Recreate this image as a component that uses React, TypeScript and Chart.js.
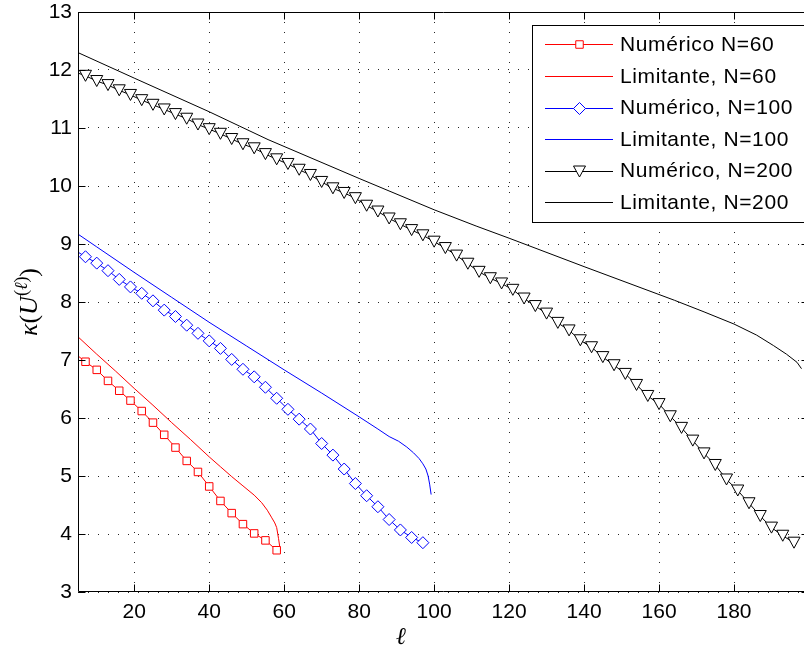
import { useEffect, useRef } from 'react';
import { Chart, registerables } from 'chart.js';

Chart.register(...registerables);

// ---- axes ----
const X_MIN = 5;
const X_MAX = 200;
const Y_MIN = 3;
const Y_MAX = 13;
const xTickValues = [20, 40, 60, 80, 100, 120, 140, 160, 180];
const yTickValues = [3, 4, 5, 6, 7, 8, 9, 10, 11, 12, 13];

const seriesLabels = [
  'Numérico N=60',
  'Limitante, N=60',
  'Numérico, N=100',
  'Limitante, N=100',
  'Numérico, N=200',
  'Limitante, N=200',
];
const seriesColors = ['#ff0000', '#ff0000', '#0000ff', '#0000ff', '#000000', '#000000'];
const seriesMarkers = ['square', 'none', 'diamond', 'none', 'triangle', 'none'];

// ---- N = 60 ----
const redNumX = [4, 7, 10, 13, 16, 19, 22, 25, 28, 31, 34, 37, 40, 43, 46, 49, 52, 55, 58];
const redNumY = [7.12, 6.97, 6.83, 6.64, 6.47, 6.30, 6.12, 5.92, 5.71, 5.49, 5.26, 5.07, 4.82, 4.57, 4.36, 4.17, 4.01, 3.89, 3.72];
const redLimX = [5, 10, 15, 20, 25, 30, 35, 40, 43, 46, 49, 52, 54, 55.5, 56.6, 57.5, 58, 58.5, 59];
const redLimY = [7.40, 7.10, 6.81, 6.51, 6.22, 5.92, 5.63, 5.33, 5.16, 4.99, 4.83, 4.67, 4.54, 4.41, 4.29, 4.19, 4.11, 3.92, 3.70];

// ---- N = 100 ----
const blueNumX = [4, 7, 10, 13, 16, 19, 22, 25, 28, 31, 34, 37, 40, 43, 46, 49, 52, 55, 58, 61, 64, 67, 70, 73, 76, 79, 82, 85, 88, 91, 94, 97];
const blueNumY = [8.90, 8.78, 8.67, 8.54, 8.39, 8.26, 8.15, 8.02, 7.86, 7.75, 7.60, 7.46, 7.33, 7.20, 7.01, 6.84, 6.71, 6.53, 6.34, 6.15, 5.98, 5.81, 5.56, 5.36, 5.12, 4.87, 4.66, 4.47, 4.25, 4.07, 3.94, 3.85];
const blueLimX = [5, 10, 20, 30, 40, 50, 60, 70, 80, 85, 88, 90.5, 92.7, 94.5, 96, 97, 97.8, 98.4, 98.8, 99.2];
const blueLimY = [9.17, 8.95, 8.51, 8.08, 7.65, 7.24, 6.83, 6.43, 6.02, 5.81, 5.68, 5.60, 5.50, 5.40, 5.30, 5.21, 5.12, 5.00, 4.86, 4.68];

// ---- N = 200 ----
const blackNumX = [4, 7, 10, 13, 16, 19, 22, 25, 28, 31, 34, 37, 40, 43, 46, 49, 52, 55, 58, 61, 64, 67, 70, 73, 76, 79, 82, 85, 88, 91, 94, 97, 100, 103, 106, 109, 112, 115, 118, 121, 124, 127, 130, 133, 136, 139, 142, 145, 148, 151, 154, 157, 160, 163, 166, 169, 172, 175, 178, 181, 184, 187, 190, 193, 196];
const blackNumY = [11.97, 11.90, 11.81, 11.74, 11.65, 11.57, 11.48, 11.40, 11.32, 11.24, 11.16, 11.06, 10.98, 10.90, 10.81, 10.72, 10.65, 10.55, 10.46, 10.38, 10.28, 10.19, 10.07, 9.96, 9.88, 9.79, 9.66, 9.56, 9.44, 9.34, 9.24, 9.15, 9.04, 8.93, 8.80, 8.66, 8.52, 8.41, 8.32, 8.21, 8.06, 7.93, 7.80, 7.64, 7.51, 7.34, 7.22, 7.05, 6.91, 6.76, 6.57, 6.38, 6.24, 6.03, 5.83, 5.61, 5.39, 5.19, 4.94, 4.75, 4.53, 4.31, 4.11, 3.97, 3.85];
const blackLimX = [5, 20, 40, 55.7, 80, 100, 111.2, 120, 140, 164.1, 172, 180, 186, 190.5, 194, 196.8, 198];
const blackLimY = [12.30, 11.86, 11.28, 10.80, 10.13, 9.59, 9.31, 9.10, 8.61, 8.03, 7.83, 7.62, 7.43, 7.25, 7.10, 6.96, 6.85];

const TICK_FONT = '"Liberation Sans", Arial, Helvetica, sans-serif';
const SERIF = '"Liberation Serif", "DejaVu Serif", "Times New Roman", serif';

function toPoints(xs: number[], ys: number[]) {
  return xs.map((x, i) => ({ x, y: ys[i] }));
}

function triPath(ctx: CanvasRenderingContext2D, x: number, y: number) {
  ctx.beginPath();
  ctx.moveTo(x - 6, y - 5.5);
  ctx.lineTo(x + 6, y - 5.5);
  ctx.lineTo(x, y + 5.5);
  ctx.closePath();
}

export default function App() {
  const canvasRef = useRef<HTMLCanvasElement | null>(null);

  useEffect(() => {
    const canvas = canvasRef.current;
    if (!canvas) return;
    const hide = (r: number) => (ctx: any) => (ctx.raw && ctx.raw.x < X_MIN ? 0 : r);

    // down-triangle markers (MATLAB 'v'), placed at the line element positions
    const trianglePlugin = {
      id: 'downTriangles',
      afterDatasetsDraw(chart: any) {
        const { ctx, chartArea: a } = chart;
        const meta = chart.getDatasetMeta(4);
        ctx.save();
        ctx.beginPath();
        ctx.rect(a.left, a.top, a.right - a.left, a.bottom - a.top);
        ctx.clip();
        ctx.lineWidth = 1;
        ctx.strokeStyle = seriesColors[4];
        ctx.fillStyle = '#ffffff';
        meta.data.forEach((el: any, i: number) => {
          if (blackNumX[i] < X_MIN) return;
          triPath(ctx, el.x, el.y);
          ctx.fill();
          ctx.stroke();
        });
        ctx.restore();
      },
    };

    const framePlugin = {
      id: 'matlabFrame',
      afterDraw(chart: any) {
        const { ctx, chartArea: a } = chart;
        const xs = chart.scales.x;
        const ys = chart.scales.y;
        ctx.save();
        ctx.strokeStyle = '#000';
        ctx.lineWidth = 1;
        const L = Math.round(a.left) + 0.5;
        const T = Math.round(a.top) + 0.5;
        const R = Math.round(a.right) - 0.5;
        const B = Math.round(a.bottom) - 0.5;
        ctx.beginPath();
        ctx.moveTo(L, T);
        ctx.lineTo(R, T);
        ctx.lineTo(R, B);
        ctx.lineTo(L, B);
        ctx.closePath();
        ctx.stroke();
        ctx.beginPath();
        xTickValues.forEach((v) => {
          const px = Math.round(xs.getPixelForValue(v)) + 0.5;
          ctx.moveTo(px, B);
          ctx.lineTo(px, B - 7);
          ctx.moveTo(px, T);
          ctx.lineTo(px, T + 7);
        });
        yTickValues.forEach((v) => {
          const py = Math.round(ys.getPixelForValue(v)) + 0.5;
          ctx.moveTo(L, py);
          ctx.lineTo(L + 7, py);
          ctx.moveTo(R, py);
          ctx.lineTo(R - 7, py);
        });
        ctx.stroke();
        ctx.restore();
      },
    };

    const titlesPlugin = {
      id: 'axisTitles',
      afterDraw(chart: any) {
        const { ctx } = chart;
        ctx.save();
        ctx.fillStyle = '#000';
        ctx.font = `italic 24px ${SERIF}`;
        ctx.textAlign = 'center';
        ctx.textBaseline = 'alphabetic';
        ctx.fillText('ℓ', 401, 644);
        const parts = [
          { t: 'κ', f: `italic 26px ${SERIF}`, dy: 0 },
          { t: '(', f: `26px ${SERIF}`, dy: 0 },
          { t: 'U', f: `italic 26px ${SERIF}`, dy: 0 },
          { t: '(', f: `18px ${SERIF}`, dy: -10 },
          { t: 'ℓ', f: `italic 18px ${SERIF}`, dy: -10 },
          { t: ')', f: `18px ${SERIF}`, dy: -10 },
          { t: ')', f: `26px ${SERIF}`, dy: 0 },
        ];
        let total = 0;
        const widths = parts.map((p) => {
          ctx.font = p.f;
          const w = ctx.measureText(p.t).width;
          total += w;
          return w;
        });
        ctx.translate(37, 302);
        ctx.rotate(-Math.PI / 2);
        ctx.textAlign = 'left';
        let cx = -total / 2;
        parts.forEach((p, i) => {
          ctx.font = p.f;
          ctx.fillText(p.t, cx, p.dy);
          cx += widths[i];
        });
        ctx.restore();
      },
    };

    const legendPlugin = {
      id: 'matlabLegend',
      afterDraw(chart: any) {
        const { ctx } = chart;
        const left = 532;
        const top = 25;
        const bottom = 222;
        const right = chart.width + 4;
        ctx.save();
        ctx.fillStyle = '#fff';
        ctx.fillRect(left + 0.5, top + 0.5, right - left, bottom - top);
        ctx.strokeStyle = '#000';
        ctx.lineWidth = 1;
        ctx.strokeRect(left + 0.5, top + 0.5, right - left, bottom - top);
        chart.data.datasets.forEach((ds: any, i: number) => {
          const y = 44.3 + i * 31.6;
          const ly = Math.round(y) + 0.5;
          const color = seriesColors[i];
          ctx.strokeStyle = color;
          ctx.lineWidth = 1;
          ctx.beginPath();
          ctx.moveTo(545, ly);
          ctx.lineTo(613, ly);
          ctx.stroke();
          const cx = 579.5;
          const kind = seriesMarkers[i];
          ctx.fillStyle = '#fff';
          if (kind === 'square') {
            ctx.beginPath();
            ctx.rect(cx - 3.75, ly - 3.75, 7.5, 7.5);
            ctx.fill();
            ctx.stroke();
          } else if (kind === 'diamond') {
            ctx.beginPath();
            ctx.moveTo(cx, ly - 6);
            ctx.lineTo(cx + 6, ly);
            ctx.lineTo(cx, ly + 6);
            ctx.lineTo(cx - 6, ly);
            ctx.closePath();
            ctx.fill();
            ctx.stroke();
          } else if (kind === 'triangle') {
            triPath(ctx, cx, ly);
            ctx.fill();
            ctx.stroke();
          }
          ctx.fillStyle = '#000';
          ctx.font = `21px ${TICK_FONT}`;
          ctx.textAlign = 'left';
          ctx.textBaseline = 'middle';
          try { (ctx as any).letterSpacing = '0.6px'; } catch (e) { /* ignore */ }
          ctx.fillText(ds.label, 620, y + 1);
          try { (ctx as any).letterSpacing = '0px'; } catch (e) { /* ignore */ }
        });
        ctx.restore();
      },
    };

    const numStyle = (i: number, style: any, r: number) => ({
      borderColor: seriesColors[i],
      borderWidth: 1,
      pointStyle: style,
      pointRadius: hide(r),
      pointHoverRadius: hide(r),
      pointBackgroundColor: '#ffffff',
      pointBorderColor: seriesColors[i],
      pointBorderWidth: 1,
      tension: 0,
      fill: false,
    });
    const limStyle = (i: number) => ({
      borderColor: seriesColors[i],
      borderWidth: 1,
      pointRadius: 0,
      pointHoverRadius: 0,
      tension: 0,
      fill: false,
    });

    const chart = new Chart(canvas, {
      type: 'line',
      data: {
        datasets: [
          { label: seriesLabels[0], data: toPoints(redNumX, redNumY), ...numStyle(0, 'rect', 5.3) },
          { label: seriesLabels[1], data: toPoints(redLimX, redLimY), ...limStyle(1) },
          { label: seriesLabels[2], data: toPoints(blueNumX, blueNumY), ...numStyle(2, 'rectRot', 6) },
          { label: seriesLabels[3], data: toPoints(blueLimX, blueLimY), ...limStyle(3) },
          { label: seriesLabels[4], data: toPoints(blackNumX, blackNumY), ...numStyle(4, 'circle', 0) },
          { label: seriesLabels[5], data: toPoints(blackLimX, blackLimY), ...limStyle(5) },
        ] as any,
      },
      options: {
        animation: false,
        responsive: false,
        maintainAspectRatio: false,
        events: [],
        layout: { padding: { top: 12, left: 0, right: 0, bottom: 0 } },
        plugins: {
          legend: { display: false },
          tooltip: { enabled: false },
        },
        scales: {
          x: {
            type: 'linear',
            min: X_MIN,
            max: X_MAX,
            afterBuildTicks: (s: any) => {
              s.ticks = xTickValues.map((v) => ({ value: v }));
            },
            afterFit: (s: any) => {
              s.height = 59;
              s.paddingLeft = 0;
              s.paddingRight = 0;
            },
            grid: { color: 'rgba(0,0,0,0.85)', lineWidth: 1, drawTicks: false },
            border: { display: false, dash: [1, 9] },
            ticks: {
              color: '#000',
              font: { family: TICK_FONT, size: 21 },
              padding: 8,
              maxRotation: 0,
              autoSkip: false,
            },
          },
          y: {
            type: 'linear',
            min: Y_MIN,
            max: Y_MAX,
            afterBuildTicks: (s: any) => {
              s.ticks = yTickValues.map((v) => ({ value: v }));
            },
            afterFit: (s: any) => {
              s.width = 78;
              s.paddingTop = 0;
              s.paddingBottom = 0;
            },
            grid: { color: 'rgba(0,0,0,0.85)', lineWidth: 1, drawTicks: false },
            border: { display: false, dash: [1, 9] },
            ticks: {
              color: '#000',
              font: { family: TICK_FONT, size: 21 },
              padding: 6,
              autoSkip: false,
            },
          },
        },
      } as any,
      plugins: [trianglePlugin, framePlugin, legendPlugin, titlesPlugin],
    });

    return () => {
      chart.destroy();
    };
  }, []);

  return (
    <div
      style={{
        position: 'fixed',
        left: 0,
        top: 0,
        width: 804,
        height: 651,
        overflow: 'hidden',
        background: '#ffffff',
      }}
    >
      <canvas ref={canvasRef} width={816} height={651} style={{ display: 'block' }} />
    </div>
  );
}
